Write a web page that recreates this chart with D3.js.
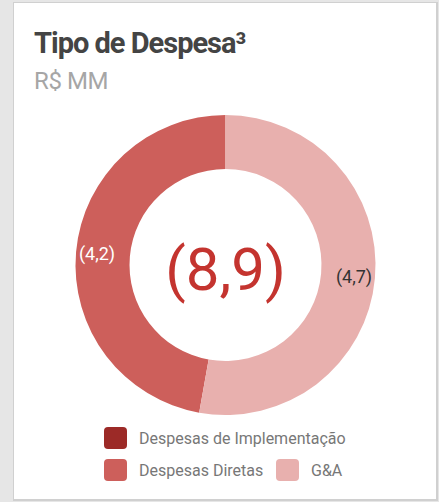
<!DOCTYPE html>
<html lang="pt">
<head>
    <meta charset="UTF-8">
    <title>Tipo de Despesa</title>
    <style>
        body, html {
            margin: 0;
            padding: 0;
            width: 439px;
            height: 502px;
            background-color: #e6e6e6;
            overflow: hidden;
        }
        #card {
            position: absolute;
            left: 13px;
            top: 2px;
            width: 422px;
            height: 496px;
            background: #fff;
            border: 1px solid #d0d0d0;
            border-right-width: 2px;
            border-bottom-width: 2px;
        }
        svg {
            position: absolute;
            left: 0;
            top: 0;
            font-family: Roboto, sans-serif;
        }
    </style>
</head>
<body>
    <div id="card"></div>
    <script src="https://d3js.org/d3.v7.min.js"></script>
    <script>
        // data
        const categories = ["Despesas de Implementação", "Despesas Diretas", "G&A"];
        const values = [0, 4.2, 4.7];
        const valueLabels = ["(0,0)", "(4,2)", "(4,7)"];
        const totalLabel = "(8,9)";
        const colors = ["#9c2a27", "#cd5f5b", "#e8b0ae"];

        const width = 439, height = 502;
        const cx = 225.5, cy = 265;
        const outerR = 150, innerR = 96;

        const svg = d3.select("body").append("svg")
            .attr("width", width)
            .attr("height", height);

        // title
        svg.append("text")
            .attr("x", 34)
            .attr("y", 53)
            .attr("font-size", "29px")
            .attr("font-weight", "bold")
            .attr("letter-spacing", "-1px")
            .attr("fill", "#444")
            .text("Tipo de Despesa³");

        svg.append("text")
            .attr("x", 34)
            .attr("y", 89)
            .attr("font-size", "24px")
            .attr("letter-spacing", "-0.4px")
            .attr("fill", "#a6a6a6")
            .text("R$ MM");

        // donut, drawn clockwise from the top: G&A first, then the rest
        const data = categories.map((c, i) => ({ name: c, value: values[i], label: valueLabels[i], color: colors[i] }));
        const order = ["G&A", "Despesas Diretas", "Despesas de Implementação"];

        const pie = d3.pie()
            .value(d => d.value)
            .sort((a, b) => order.indexOf(a.name) - order.indexOf(b.name));

        const arc = d3.arc().innerRadius(innerR).outerRadius(outerR);
        const labelArc = d3.arc().innerRadius(129).outerRadius(129);

        const g = svg.append("g").attr("transform", `translate(${cx},${cy})`);

        const arcs = pie(data).filter(d => d.data.value > 0);

        g.selectAll("path")
            .data(arcs)
            .join("path")
            .attr("d", arc)
            .attr("fill", d => d.data.color);

        g.selectAll("text.val")
            .data(arcs)
            .join("text")
            .attr("class", "val")
            .attr("transform", d => `translate(${labelArc.centroid(d)})`)
            .attr("text-anchor", "middle")
            .attr("dy", "0.35em")
            .attr("font-size", "18px")
            .attr("fill", d => d.data.name === "G&A" ? "#333" : "#fff")
            .text(d => d.data.label);

        g.append("text")
            .attr("text-anchor", "middle")
            .attr("y", 25)
            .attr("font-size", "60px")
            .attr("fill", "#c4342f")
            .text(totalLabel);

        // legend
        const legendPos = [
            { x: 104, y: 427 },
            { x: 104, y: 459 },
            { x: 276, y: 459 }
        ];

        const legend = svg.append("g")
            .selectAll("g")
            .data(data)
            .join("g")
            .attr("transform", (d, i) => `translate(${legendPos[i].x},${legendPos[i].y})`);

        legend.append("rect")
            .attr("width", 23)
            .attr("height", 22)
            .attr("rx", 4)
            .attr("fill", d => d.color);

        legend.append("text")
            .attr("x", 35)
            .attr("y", 17)
            .attr("font-size", "16px")
            .attr("fill", "#777")
            .text(d => d.name);
    </script>
</body>
</html>
